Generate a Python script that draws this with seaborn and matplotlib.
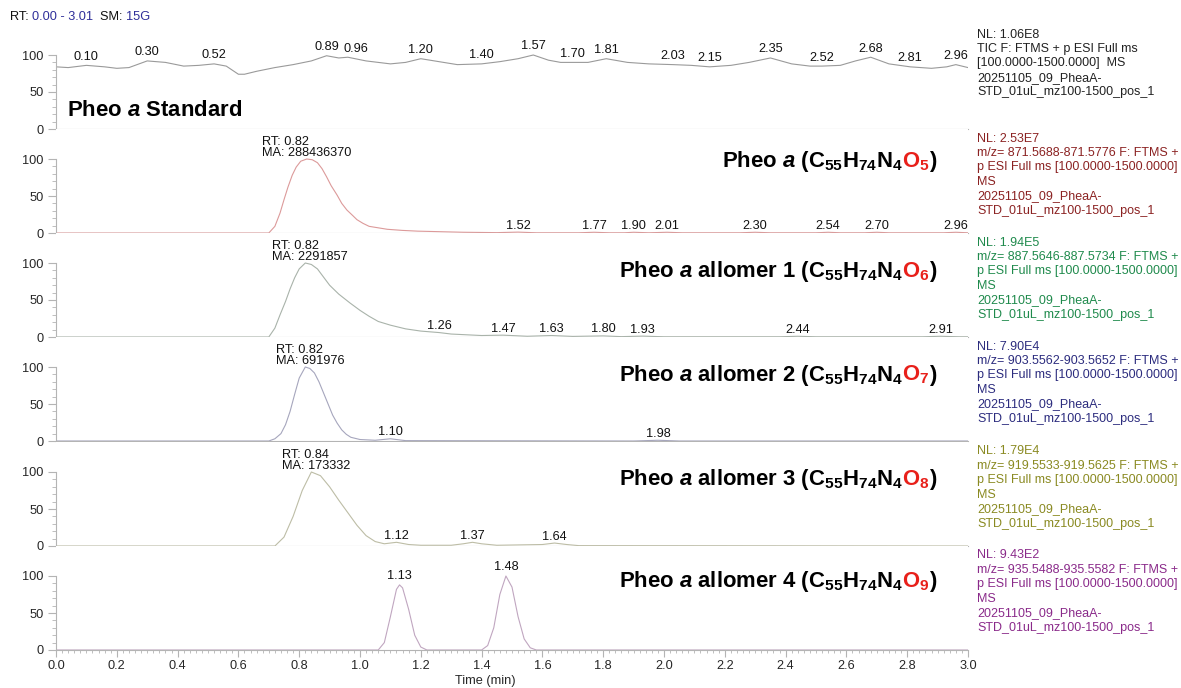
import numpy as np
import matplotlib
matplotlib.use("Agg")
import matplotlib.pyplot as plt
import seaborn as sns
from matplotlib.offsetbox import TextArea, HPacker, AnnotationBbox
from matplotlib.ticker import MultipleLocator, FixedLocator

# ---------------- data ----------------
tic_time = [0.00, 0.04, 0.10, 0.16, 0.20, 0.24, 0.30, 0.36, 0.42, 0.47, 0.52, 0.56, 0.60, 0.62,
            0.66, 0.72, 0.78, 0.84, 0.89, 0.93, 0.96, 1.02, 1.10, 1.15, 1.20, 1.26, 1.32, 1.40,
            1.46, 1.52, 1.57, 1.62, 1.66, 1.70, 1.75, 1.81, 1.88, 1.95, 2.03, 2.09, 2.15, 2.22,
            2.28, 2.35, 2.42, 2.48, 2.52, 2.58, 2.63, 2.68, 2.74, 2.81, 2.88, 2.93, 2.96, 3.00]
tic_int = [84, 83, 86, 84, 82, 83, 92, 90, 85, 86, 88, 85, 74, 74,
           78, 83, 87, 92, 99, 96, 97, 92, 88, 90, 95, 91, 87, 88,
           91, 95, 100, 93, 90, 90, 90, 95, 90, 88, 87, 86, 84, 86,
           90, 96, 88, 85, 85, 86, 92, 97, 88, 84, 82, 84, 87, 83]
tic_labels = [0.10, 0.30, 0.52, 0.89, 0.96, 1.20, 1.40, 1.57, 1.70, 1.81, 2.03, 2.15, 2.35,
              2.52, 2.68, 2.81, 2.96]

p2_time = [0.00, 0.60, 0.70, 0.72, 0.737, 0.75, 0.763, 0.777, 0.79, 0.805, 0.825, 0.843, 0.86,
           0.875, 0.89, 0.905, 0.925, 0.94, 0.957, 0.975, 0.99, 1.01, 1.03, 1.06, 1.09, 1.14,
           1.19, 1.34, 1.45, 1.52, 1.58, 1.72, 1.77, 1.82, 1.87, 1.90, 1.95, 2.01, 2.06,
           2.25, 2.30, 2.35, 2.50, 2.54, 2.58, 2.66, 2.70, 2.74, 2.92, 2.96, 3.00]
p2_int = [0, 0, 0, 9, 27, 45, 62, 78, 89, 97, 100, 99, 95,
          87, 76, 64, 51, 40, 31, 24, 18, 13, 9, 7, 5, 3.5,
          2.5, 1, 0.5, 1.2, 0.3, 0.3, 1, 0.3, 0.3, 1, 0.3, 1, 0.3,
          0.3, 1, 0.3, 0.3, 1, 0.3, 0.3, 1, 0.3, 0.3, 1, 0.3]
p2_labels = [1.52, 1.77, 1.90, 2.01, 2.30, 2.54, 2.70, 2.96]

p3_time = [0.00, 0.60, 0.70, 0.72, 0.737, 0.755, 0.77, 0.785, 0.80, 0.82, 0.84, 0.86, 0.88,
           0.90, 0.93, 0.967, 1.00, 1.03, 1.06, 1.10, 1.15, 1.20, 1.26,
           1.30, 1.40, 1.47, 1.55, 1.63, 1.70, 1.80, 1.86, 1.93, 2.00, 2.38, 2.44, 2.50, 2.85,
           2.91, 2.97, 3.00]
p3_int = [0, 0, 0, 12, 30, 48, 65, 80, 92, 100, 98, 92, 81,
          70, 58, 46, 36, 28, 21, 16, 11, 8, 6,
          4, 2, 2.5, 1, 2, 0.8, 1.5, 0.5, 1.2, 0.3, 0.3, 1, 0.3, 0.3,
          1, 0.3, 0.3]
p3_labels = [1.26, 1.47, 1.63, 1.80, 1.93, 2.44, 2.91]

p4_time = [0.00, 0.70, 0.72, 0.74, 0.755, 0.77, 0.785, 0.80, 0.82, 0.835, 0.85, 0.865, 0.88,
           0.895, 0.91, 0.925, 0.94, 0.955, 0.97, 1.00, 1.05, 1.10, 1.15, 1.90, 1.98, 2.05, 3.00]
p4_int = [0, 0, 3, 10, 22, 40, 63, 85, 100, 98, 92, 80, 65,
          50, 35, 24, 15, 9, 5, 2, 1, 3, 0.5, 0, 1, 0, 0]
p4_labels = [1.10, 1.98]

p5_time = [0.00, 0.72, 0.75, 0.78, 0.81, 0.84, 0.87, 0.90, 0.93, 0.96, 0.99, 1.02, 1.05, 1.08,
           1.12, 1.16, 1.20, 1.30, 1.34, 1.37, 1.40, 1.45, 1.60, 1.64, 1.68, 1.72, 3.00]
p5_int = [0, 0, 12, 40, 75, 100, 95, 80, 62, 45, 28, 14, 6, 3,
          5, 2, 1, 1, 3, 5, 3, 1, 2, 4, 2, 0.5, 0]
p5_labels = [1.12, 1.37, 1.64]

p6_time = [0.00, 1.06, 1.08, 1.10, 1.12, 1.13, 1.14, 1.16, 1.18, 1.20, 1.22, 1.40, 1.42, 1.44,
           1.46, 1.48, 1.50, 1.52, 1.54, 1.56, 1.58, 3.00]
p6_int = [0, 0, 10, 45, 82, 88, 84, 55, 20, 4, 0, 0, 6, 30,
          75, 100, 85, 45, 15, 3, 0, 0]
p6_labels = [1.13, 1.48]

main_rt = [None, 0.82, 0.82, 0.82, 0.84, None]
main_ma = [None, "288436370", "2291857", "691976", "173332", None]

nl_values = ["1.06E8", "2.53E7", "1.94E5", "7.90E4", "1.79E4", "9.43E2"]
mz_ranges = [None, "871.5688-871.5776", "887.5646-887.5734", "903.5562-903.5652",
             "919.5533-919.5625", "935.5488-935.5582"]
oxygen_counts = [None, 5, 6, 7, 8, 9]
compound_names = ["Standard", "", " allomer 1", " allomer 2", " allomer 3", " allomer 4"]
x_ticks = [0.0, 0.2, 0.4, 0.6, 0.8, 1.0, 1.2, 1.4, 1.6, 1.8, 2.0, 2.2, 2.4, 2.6, 2.8, 3.0]

# ---------------- style ----------------
sns.set_style("ticks")
plt.rcParams["font.family"] = ["Liberation Sans", "DejaVu Sans"]
plt.rcParams.update({
    "mathtext.fontset": "custom",
    "mathtext.rm": "Liberation Sans:bold",
    "mathtext.bf": "Liberation Sans:bold",
    "mathtext.it": "Liberation Sans:bold:italic",
    "mathtext.default": "rm",
})

W, H = 1181, 688
fig = plt.figure(figsize=(W / 100, H / 100), dpi=100)

traces = [(tic_time, tic_int), (p2_time, p2_int), (p3_time, p3_int),
          (p4_time, p4_int), (p5_time, p5_int), (p6_time, p6_int)]
small_labels = [tic_labels, p2_labels, p3_labels, p4_labels, p5_labels, p6_labels]
label_shift = {0.96: 0.025}
ma_shift = [0, 0.005, 0.016, 0.016, 0.016, 0]
line_colors = ["#9a9a9a", "#dc9a9a", "#a9b3aa", "#a6a6bd", "#bdbda6", "#c0a6c0"]
text_colors = ["#222222", "#8b2222", "#1f8a4c", "#2c2c7e", "#8a8a22", "#8a2a8a"]
title_dy = [18, 71, 65, 66, 66, 68]

zero_px = [129, 233, 337, 441, 546, 650]
left_px, right_px = 56, 968
px_per_unit = 0.74
ax_h_px = 104
spine_c = "#b4b4b4"
fs = 9.2
fs_info = 9.0
tfs = 15.9

for i in range(6):
    z = zero_px[i]
    ax = fig.add_axes([left_px / W, 1 - z / H, (right_px - left_px) / W, ax_h_px / H])
    t, v = traces[i]
    sns.lineplot(x=t, y=v, ax=ax, color=line_colors[i], linewidth=0.8, legend=False)
    ax.set_xlim(0, 3.0)
    ax.set_ylim(0, ax_h_px / px_per_unit)
    for s in ("top", "right"):
        ax.spines[s].set_visible(False)
    ax.spines["left"].set_bounds(0, 100)
    ax.spines["left"].set_color(spine_c)
    ax.spines["bottom"].set_color(spine_c)
    ax.spines["left"].set_linewidth(0.8)
    ax.spines["bottom"].set_linewidth(0.8)
    ax.yaxis.set_major_locator(FixedLocator([0, 50, 100]))
    ax.yaxis.set_minor_locator(FixedLocator(list(range(0, 101, 10))))
    ax.tick_params(axis="y", which="major", length=6, color=spine_c, labelsize=fs, pad=3)
    ax.tick_params(axis="y", which="minor", length=3, color=spine_c)
    ax.set_xlabel("")
    ax.set_ylabel("")
    if i == 5:
        ax.xaxis.set_major_locator(FixedLocator(x_ticks))
        ax.xaxis.set_minor_locator(MultipleLocator(0.02))
        ax.set_xticklabels([f"{x:.1f}" for x in x_ticks])
        ax.tick_params(axis="x", which="major", length=5, color=spine_c, labelsize=fs, pad=2)
        ax.tick_params(axis="x", which="minor", length=2.5, color=spine_c)
        ax.set_xlabel("Time (min)", fontsize=fs, labelpad=1)
        ax.xaxis.set_label_coords((485 - left_px) / (right_px - left_px), -0.245)
    else:
        ax.set_xticks([])
    # peak labels
    for lab in small_labels[i]:
        k = t.index(lab)
        ax.text(lab + label_shift.get(lab, 0.0) * (i == 0), v[k] + (3.5 if i in (0, 5) else 0.6),
                f"{lab:.2f}", ha="center", va="bottom", fontsize=fs, color="#111111")
    if main_rt[i] is not None:
        xpos = main_rt[i] + ma_shift[i]
        ax.text(xpos, 99.5, f"RT: {main_rt[i]:.2f}\nMA: {main_ma[i]}", ha="center", va="bottom",
                multialignment="left", fontsize=fs, linespacing=0.88, color="#111111")
    # right-side info block
    if i == 0:
        info = (f"NL: {nl_values[i]}\nTIC F: FTMS + p ESI Full ms\n[100.0000-1500.0000]  MS\n"
                "20251105_09_PheaA-\nSTD_01uL_mz100-1500_pos_1")
    else:
        info = (f"NL: {nl_values[i]}\nm/z= {mz_ranges[i]} F: FTMS +\np ESI Full ms [100.0000-1500.0000]\nMS\n"
                "20251105_09_PheaA-\nSTD_01uL_mz100-1500_pos_1")
    fig.text(977 / W, 1 - (z - 100.5) / H, info, ha="left", va="top", fontsize=fs_info,
             color=text_colors[i], linespacing=1.27)
    # big titles
    tp = dict(fontsize=tfs, fontweight="bold", color="black")
    if i == 0:
        box = TextArea(r"Pheo $\mathit{a}$ Standard", textprops=tp)
        ab = AnnotationBbox(box, (67 / W, 1 - (z - title_dy[i]) / H), xycoords="figure fraction",
                            box_alignment=(0, 0.5), frameon=False, pad=0)
    else:
        parts = [TextArea(r"Pheo $\mathit{a}$" + compound_names[i] + " (C$_{55}$H$_{74}$N$_{4}$",
                          textprops=tp),
                 TextArea(r"$\!$O$_{%d}$" % oxygen_counts[i],
                          textprops=dict(fontsize=tfs, fontweight="bold", color="#e8201a")),
                 TextArea(")", textprops=tp)]
        box = HPacker(children=parts, align="baseline", pad=0, sep=0)
        ab = AnnotationBbox(box, (937 / W, 1 - (z - title_dy[i]) / H), xycoords="figure fraction",
                            box_alignment=(1, 0.5), frameon=False, pad=0)
    fig.add_artist(ab)

# header
hp = dict(fontsize=fs, color="#111111")
hb = dict(fontsize=fs, color="#2e2e9a")
hdr = HPacker(children=[TextArea("RT: ", textprops=hp), TextArea("0.00 - 3.01", textprops=hb),
                        TextArea("  SM: ", textprops=hp), TextArea("15G", textprops=hb)],
              align="baseline", pad=0, sep=0)
fig.add_artist(AnnotationBbox(hdr, (10 / W, 1 - 17 / H), xycoords="figure fraction",
                              box_alignment=(0, 0.5), frameon=False, pad=0))

fig.savefig("out.png", dpi=100)
